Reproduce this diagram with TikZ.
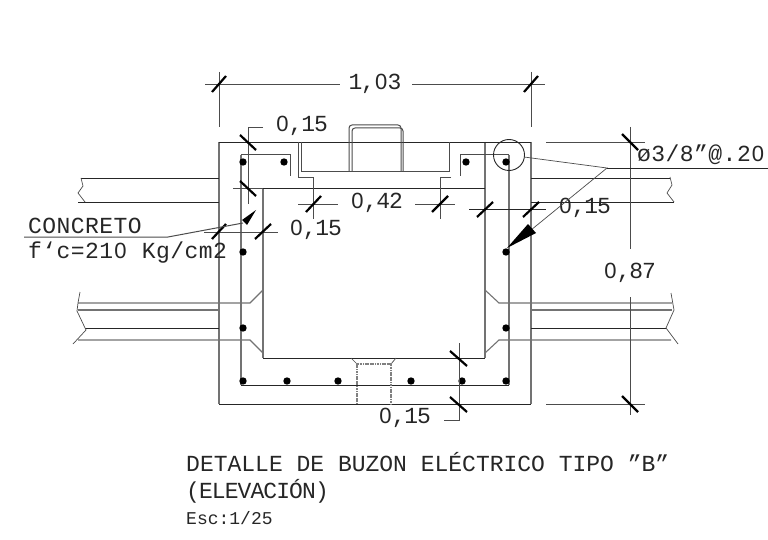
\documentclass[tikz,border=0pt]{standalone}
\usepackage{fontspec}
\setmainfont{Liberation Mono}
\newfontfamily\dimfont[LetterSpace=-5]{Liberation Mono}
\newfontfamily\wideF[LetterSpace=2]{Liberation Mono}
\newfontfamily\titleF{Liberation Mono}
\newfontfamily\subF[LetterSpace=-4]{Liberation Mono}
\newfontfamily\zeroF{Liberation Sans}
\newcommand{\zr}{\makebox[12.6pt][c]{\zeroF\fontsize{22}{22}\selectfont 0}}
\newcommand{\zrw}{\makebox[14.2pt][c]{\zeroF\fontsize{22}{22}\selectfont 0}}
\begin{document}
\begin{tikzpicture}[x=1pt,y=-1pt,
  blk/.style={draw=black!85,line width=0.9pt},
  wall/.style={draw=black!55,line width=1.5pt},
  thin/.style={draw=black!70,line width=0.7pt},
  tick/.style={draw=black,line width=2.2pt},
  dot/.style={fill=black,draw=none},
  lab/.style={inner sep=0pt,text=black!85,font=\dimfont\fontsize{23}{23}\selectfont},
  wlab/.style={inner sep=0pt,anchor=west,text=black!85,font=\wideF\fontsize{23}{23}\selectfont},
  ttl/.style={inner sep=0pt,anchor=west,text=black!85,font=\titleF\fontsize{23}{23}\selectfont},
  sub/.style={inner sep=0pt,anchor=west,text=black!85,font=\subF\fontsize{23}{23}\selectfont},
  small/.style={inner sep=0pt,anchor=west,text=black!85,font=\titleF\fontsize{18}{18}\selectfont}]
\useasboundingbox (0,0) rectangle (768,540);
\fill[white] (0,0) rectangle (768,540);
% walls
\draw[wall] (219,142) -- (219,404);
\draw[wall] (531,142) -- (531,404);
\draw[wall] (485,142) -- (485,358);
\draw[wall] (263,188) -- (263,358);
\draw[wall] (241,155) -- (241,385);
\draw[wall] (509,155) -- (509,385);
\draw[blk] (219,142) -- (531,142);
\draw[blk] (219,404) -- (531,404);
\draw[blk] (263,188) -- (485,188);
\draw[blk] (263,358) -- (485,358);
\draw[blk] (241,385) -- (509,385);
% stirrups
\draw[thin,line width=1pt] (241,155) -- (290,155) -- (290,176);
\draw[thin,line width=1pt] (460,176) -- (460,155) -- (509,155);
% cover and steps
\draw[thin,line width=1pt] (298,142) -- (298,178) -- (313,178) -- (313,188);
\draw[thin,line width=1pt] (301,142) -- (301,172) -- (449,172) -- (449,142);
\draw[thin,line width=1pt] (451,178) -- (440,178) -- (440,188);
% handle
\draw[thin,line width=1pt,rounded corners=3pt] (349,172) -- (349,125) -- (401,125) -- (401,172);
\draw[thin,line width=1pt,rounded corners=3pt] (352,172) -- (352,128) -- (403,128) -- (403,172);
% haunches and pipes
\draw[wall,line width=1.1pt] (263,290) -- (250,303) -- (78,303);
\draw[wall,line width=1.1pt] (263,353) -- (250,340) -- (78,340);
\draw[wall,line width=1.1pt] (485,290) -- (499,303) -- (672,303);
\draw[wall,line width=1.1pt] (485,353) -- (499,340) -- (671,340);
\draw[wall,line width=1.1pt] (78,310) -- (219,310);
\draw[wall,line width=1.1pt] (531,310) -- (672,310);
\draw[blk] (85,328) -- (219,328);
\draw[blk] (531,328) -- (666,328);
\draw[blk] (81,178) -- (219,178);
\draw[blk] (78,202) -- (219,202);
\draw[blk] (531,178) -- (670,178);
\draw[blk] (531,202) -- (674,202);
% break lines
\draw[thin] (81,178) -- (83,186) -- (78,193) -- (85,202);
\draw[thin] (80,292) -- (78,303) -- (77,311) -- (86,330) -- (73,344);
\draw[thin] (670,177) -- (672,185) -- (667,193) -- (674,202);
\draw[thin] (671,293) -- (674,310) -- (666,328) -- (678,344);
% drain
\draw[thin] (351,358) -- (357,364);
\draw[thin] (391,364) -- (396,358);
\draw[draw=black!50,line width=1.2pt,dash pattern=on 1.2pt off 0.5pt] (357,404) -- (357,364) -- (391,364) -- (391,404);
% bars
\foreach \p in {(243,162),(284,162),(466,162),(506,162),(243,252),(506,252),(243,328),(506,328),
 (243,381),(287,381),(338,381),(411,381),(462,381),(506,381)}
  \fill[dot] \p circle (3.7);
% dimension 1,03
\draw[thin] (205,84) -- (340,84);
\draw[thin] (412,84) -- (545,84);
\draw[thin] (219,72) -- (219,127);
\draw[thin] (531,72) -- (531,127);
\draw[tick] (212,92) -- (226,76);
\draw[tick] (524,92) -- (538,76);
\node[lab] (d103) at (375,84) {1,\zr3};
% dimension 0,15 top
\draw[thin] (263,127) -- (248,127) -- (248,204);
\draw[thin] (233,188) -- (263,188);
\draw[tick] (240,135) -- (256,150);
\draw[tick] (240,181) -- (256,196);
\node[lab] (d15a) at (302,126) {\zr,15};
% dimension 0,42
\draw[thin] (298,204) -- (338,204);
\draw[thin] (415,204) -- (455,204);
\draw[thin] (313,188) -- (313,219);
\draw[thin] (440,188) -- (440,219);
\draw[tick] (306,212) -- (321,196);
\draw[tick] (432,212) -- (448,196);
\node[lab] (d42) at (377,203) {\zr,42};
% dimension 0,15 left
\draw[thin] (204,232) -- (278,232);
\draw[tick] (212,239) -- (226,224);
\draw[tick] (255,239) -- (271,224);
\node[lab] (d15b) at (316,230) {\zr,15};
% dimension 0,15 right
\draw[blk] (469,209) -- (546,209);
\draw[tick] (477,217) -- (493,202);
\draw[tick] (523,217) -- (539,202);
\node[lab] (d15c) at (585,208) {\zr,15};
% dimension 0,87
\draw[thin] (630,127) -- (630,249);
\draw[thin] (630,297) -- (630,415);
\draw[thin] (546,142) -- (645,142);
\draw[thin] (546,404) -- (645,404);
\draw[tick] (622,134) -- (638,150);
\draw[tick] (622,396) -- (638,412);
\node[lab] (d87) at (630,273) {\zr,87};
% dimension 0,15 bottom
\draw[thin] (459,343) -- (459,420) -- (444,420);
\draw[tick] (450,351) -- (467,366);
\draw[tick] (450,397) -- (467,412);
\node[lab] (d15d) at (405,418) {\zr,15};
% concrete leader
\draw[thin,line width=1pt] (24,237) -- (168,237) -- (243,223);
\fill[black] (256,210) -- (242,220) -- (247,225) -- cycle;
\node[wlab] (conc) at (28,226) {CONCRETO};
\node[wlab] (fc) at (28,253) {f‘c=21\zrw{} Kg/cm2};
% steel leader
\draw[blk] (509,155) circle (15.5);
\draw[thin] (524,157) -- (607,168) -- (520,239);
\draw[blk] (607,168) -- (768,168);
\fill[black] (507,248) -- (528,224) -- (536,233) -- cycle;
\node[wlab] (steel) at (637,155) {ø3/8”@.2\zrw};
% titles
\node[ttl] (t1) at (186,462) {DETALLE DE BUZON ELÉCTRICO TIPO ”B”};
\node[sub] (t2) at (186,491) {(ELEVACIÓN)};
\node[small] (t3) at (186,518) {Esc:1/25};
\end{tikzpicture}
\end{document}
